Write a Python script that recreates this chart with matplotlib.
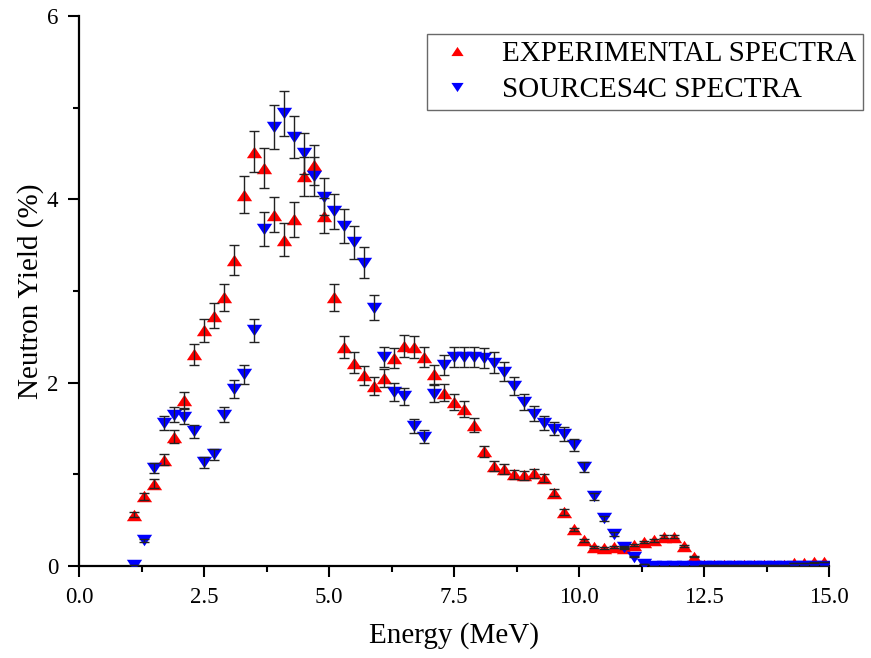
import numpy as np
import matplotlib.pyplot as plt
from matplotlib.ticker import MultipleLocator

plt.rcParams.update({
    "font.family": "Liberation Serif",
    "font.size": 16.5,
    "axes.linewidth": 1.6,
})

# energy bins (MeV)
energy = [1.1, 1.3, 1.5, 1.7, 1.9, 2.1, 2.3, 2.5, 2.7, 2.9,
          3.1, 3.3, 3.5, 3.7, 3.9, 4.1, 4.3, 4.5, 4.7, 4.9,
          5.1, 5.3, 5.5, 5.7, 5.9, 6.1, 6.3, 6.5, 6.7, 6.9,
          7.1, 7.3, 7.5, 7.7, 7.9, 8.1, 8.3, 8.5, 8.7, 8.9,
          9.1, 9.3, 9.5, 9.7, 9.9, 10.1, 10.3, 10.5, 10.7, 10.9,
          11.1, 11.3, 11.5, 11.7, 11.9, 12.1, 12.3, 12.5, 12.7, 12.9,
          13.1, 13.3, 13.5, 13.7, 13.9, 14.1, 14.3, 14.5, 14.7, 14.9]

# neutron yield (%)
experimental = [0.56, 0.76, 0.90, 1.16, 1.41, 1.81, 2.31, 2.57, 2.73, 2.93,
                3.34, 4.05, 4.52, 4.34, 3.83, 3.56, 3.78, 4.25, 4.37, 3.82,
                2.93, 2.39, 2.22, 2.08, 1.96, 2.05, 2.27, 2.40, 2.39, 2.28,
                2.09, 1.89, 1.79, 1.71, 1.54, 1.25, 1.09, 1.06, 1.00, 0.99,
                1.01, 0.96, 0.80, 0.59, 0.40, 0.28, 0.21, 0.20, 0.21, 0.20,
                0.23, 0.26, 0.28, 0.32, 0.32, 0.22, 0.10, 0.01, 0.01, 0.01,
                0.01, 0.01, 0.01, 0.01, 0.01, 0.01, 0.03, 0.035, 0.04, 0.045]

sources4c = [0.01, 0.28, 1.07, 1.56, 1.65, 1.63, 1.47, 1.13, 1.22, 1.65,
             1.93, 2.09, 2.57, 3.68, 4.79, 4.94, 4.68, 4.50, 4.25, 4.03,
             3.87, 3.71, 3.53, 3.31, 2.82, 2.28, 1.90, 1.85, 1.53, 1.41,
             1.88, 2.19, 2.28, 2.28, 2.28, 2.27, 2.22, 2.12, 1.96, 1.79,
             1.66, 1.56, 1.50, 1.44, 1.32, 1.08, 0.76, 0.52, 0.35, 0.21,
             0.10, 0.02, 0.0, 0.0, 0.0, 0.0, 0.0, 0.0, 0.0, 0.0,
             0.0, 0.0, 0.0, 0.0, 0.0, 0.0, 0.0, 0.0, 0.0, 0.0]

rel_err = 0.05  # 5 % uncertainty on each point

energy = np.array(energy)
experimental = np.array(experimental)
sources4c = np.array(sources4c)

# wide triangles like Origin's
tri_up = [(0, 0.9), (-1.2, -0.9), (1.2, -0.9), (0, 0.9)]
tri_down = [(0, -0.9), (-1.2, 0.9), (1.2, 0.9), (0, -0.9)]

fig = plt.figure(figsize=(8.71, 6.58), dpi=100)
ax = fig.add_axes([0.0907, 0.1398, 0.8611, 0.8359])

ax.plot(energy, experimental, linestyle="none", marker=tri_up, color="red",
        markersize=11, markeredgewidth=0, label="EXPERIMENTAL SPECTRA", zorder=2)
ax.plot(energy, sources4c, linestyle="none", marker=tri_down, color="blue",
        markersize=11, markeredgewidth=0, label="SOURCES4C SPECTRA", zorder=3)

for y in (experimental, sources4c):
    ax.errorbar(energy, y, yerr=rel_err * y, fmt="none", ecolor="#222222",
                elinewidth=1.0, capsize=3.6, capthick=1.0, zorder=4)

ax.set_xlim(0, 15)
ax.set_ylim(0, 6)
ax.xaxis.set_major_locator(MultipleLocator(2.5))
ax.xaxis.set_minor_locator(MultipleLocator(1.25))
ax.yaxis.set_major_locator(MultipleLocator(2))
ax.yaxis.set_minor_locator(MultipleLocator(1))
ax.xaxis.set_major_formatter(plt.FormatStrFormatter("%.1f"))
ax.tick_params(which="major", direction="out", length=8, width=1.5, pad=7)
ax.tick_params(which="minor", direction="out", length=4, width=1.5)
ax.spines["top"].set_visible(False)
ax.spines["right"].set_visible(False)

ax.set_xlabel("Energy (MeV)", fontsize=21, labelpad=10)
ax.set_ylabel("Neutron Yield (%)", fontsize=21, labelpad=2)

leg = fig.legend(loc="upper left", bbox_to_anchor=(427 / 871, 1 - 34 / 658),
                 fontsize=21, frameon=True, fancybox=False, edgecolor="#444444",
                 markerscale=0.8, handlelength=1.6, handletextpad=0.75,
                 labelspacing=0.35, borderpad=0.22, borderaxespad=0)
leg.get_frame().set_linewidth(1.0)

fig.savefig("out.png", dpi=100)
